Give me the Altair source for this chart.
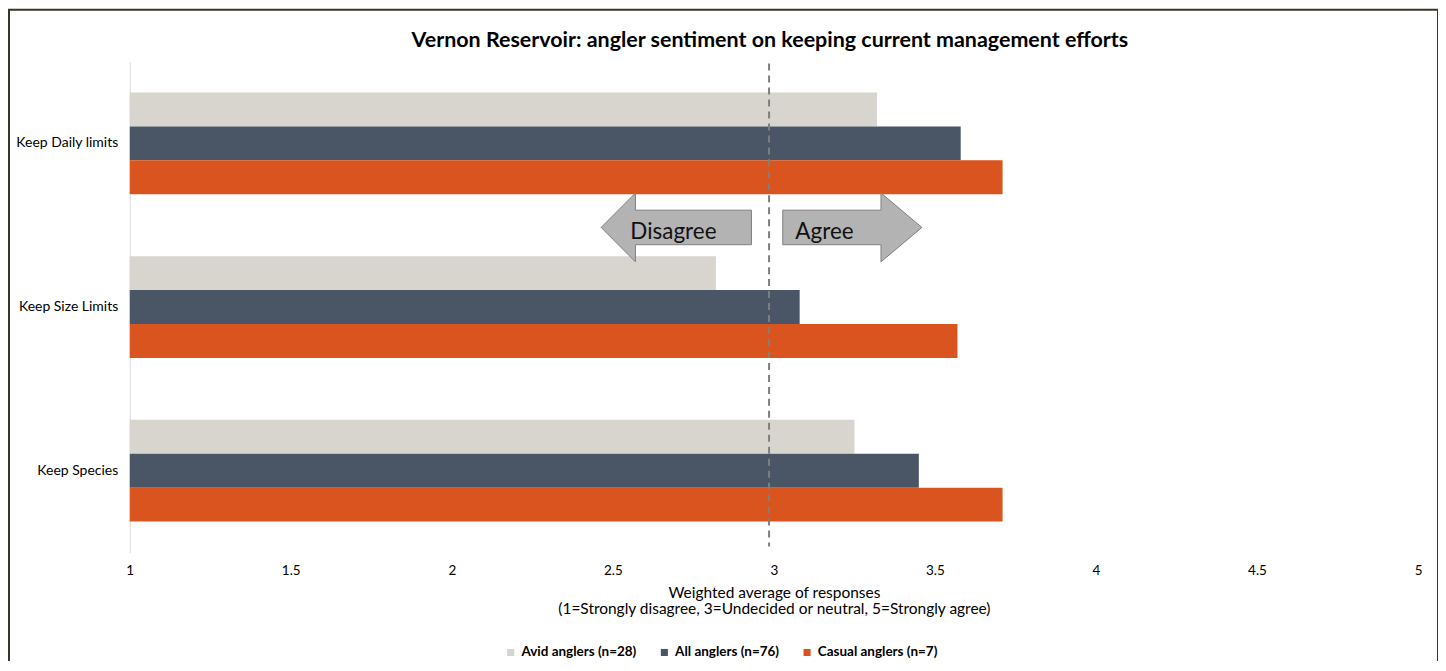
import altair as alt
import pandas as pd

# ---- data ----
categories = ["Keep Daily limits", "Keep Size Limits", "Keep Species"]
series = ["Avid anglers (n=28)", "All anglers (n=76)", "Casual anglers (n=7)"]
avid = [3.32, 2.82, 3.25]
all_anglers = [3.58, 3.08, 3.45]
casual = [3.71, 3.57, 3.71]
colors = ["#D8D4CE", "#4A5565", "#D9541E"]
x_ticks = [1, 1.5, 2, 2.5, 3, 3.5, 4, 4.5, 5]
neutral_line = [2.985]
arrow_labels = ["Disagree", "Agree"]
arrow_label_x = [2.688, 3.157]
arrow_x = [2.697, 3.2436]

rows = []
for i, c in enumerate(categories):
    for s, vals in zip(series, [avid, all_anglers, casual]):
        rows.append({"category": c, "series": s, "value": vals[i]})
df = pd.DataFrame(rows)

FONT = "Lato"
W, H = 1291, 492
xscale = alt.Scale(domain=[1, 5], nice=False, zero=False)
xaxis = alt.Axis(values=x_ticks, format="~g", grid=False, domain=False, ticks=False,
                 labelFlush=False, labelPadding=11, labelFontSize=13.5, labelColor="#000",
                 title=["Weighted average of responses",
                        "(1=Strongly disagree, 3=Undecided or neutral, 5=Strongly agree)"],
                 titleFontSize=15.5, titleFontWeight="normal", titleColor="#000",
                 titlePadding=9, titleLineHeight=16)

bars = alt.Chart(df).mark_bar().encode(
    x=alt.X("value:Q", scale=xscale, axis=xaxis),
    x2=alt.datum(1),
    y=alt.Y("category:N", sort=categories,
            scale=alt.Scale(paddingInner=0.378, paddingOuter=0.189),
            axis=alt.Axis(title=None, ticks=False, domain=True, domainColor="#D9D9D9",
                          labelPadding=12, labelFontSize=14, labelColor="#000", grid=False)),
    yOffset=alt.YOffset("series:N", sort=series),
    color=alt.Color("series:N", sort=series,
                    scale=alt.Scale(domain=series, range=colors),
                    legend=alt.Legend(title=None, orient="none", direction="horizontal",
                                      legendX=375, legendY=585, symbolType="square",
                                      symbolSize=50, labelFontSize=13.5, labelFontWeight="bold",
                                      labelColor="#000", columnPadding=21,
                                      symbolStrokeWidth=0)),
)

rule_df = pd.DataFrame({"value": neutral_line})
rule = alt.Chart(rule_df).mark_rule(color="#7F7F7F", strokeWidth=2, strokeDash=[7, 5]).encode(
    x=alt.X("value:Q", scale=xscale, axis=xaxis),
    y=alt.value(2), y2=alt.value(H - 6),
)

left_path = "M -1 0 L -0.544 -0.458 L -0.544 -0.23 L 1 -0.23 L 1 0.23 L -0.544 0.23 L -0.544 0.458 Z"
right_path = "M 0.926 0 L 0.381 -0.458 L 0.381 -0.23 L -0.926 -0.23 L -0.926 0.23 L 0.381 0.23 L 0.381 0.458 Z"
arrow_size = 150.6 ** 2

arr_left = alt.Chart(pd.DataFrame({"value": [arrow_x[0]]})).mark_point(
    shape=left_path, size=arrow_size, filled=True, fill="#B3B3B3", stroke="#7F7F7F",
    strokeWidth=1, opacity=1).encode(
    x=alt.X("value:Q", scale=xscale, axis=xaxis), y=alt.value(166.2))
arr_right = alt.Chart(pd.DataFrame({"value": [arrow_x[1]]})).mark_point(
    shape=right_path, size=arrow_size, filled=True, fill="#B3B3B3", stroke="#7F7F7F",
    strokeWidth=1, opacity=1).encode(
    x=alt.X("value:Q", scale=xscale, axis=xaxis), y=alt.value(166.2))

txt = alt.Chart(pd.DataFrame({"value": arrow_label_x, "t": arrow_labels})).mark_text(
    fontSize=22.5, font=FONT, color="#111", baseline="alphabetic", align="center").encode(
    x=alt.X("value:Q", scale=xscale, axis=xaxis), y=alt.value(178), text="t:N")

frame = alt.Chart(pd.DataFrame({"a": [0]})).mark_rect(
    fill=None, stroke="#3A3526", strokeWidth=2).encode(
    x=alt.value(-121), x2=alt.value(1311), y=alt.value(-52), y2=alt.value(H + 110))

chart = alt.layer(bars, rule, arr_left, arr_right, txt, frame).properties(
    width=W, height=H,
    title=alt.TitleParams("Vernon Reservoir: angler sentiment on keeping current management efforts",
                          fontSize=21.5, font=FONT, fontWeight="bold", color="#000",
                          anchor="middle", offset=-43, dx=-4),
    autosize=alt.AutoSizeParams(type="none"),
    padding={"left": 122, "top": 53, "right": 20, "bottom": 108},
).configure(font=FONT, background="white").configure_view(stroke=None).configure_axis(
    labelFont=FONT, titleFont=FONT).configure_legend(labelFont=FONT)

chart.save("out.html", embed_options={"renderer": "svg", "actions": False})
